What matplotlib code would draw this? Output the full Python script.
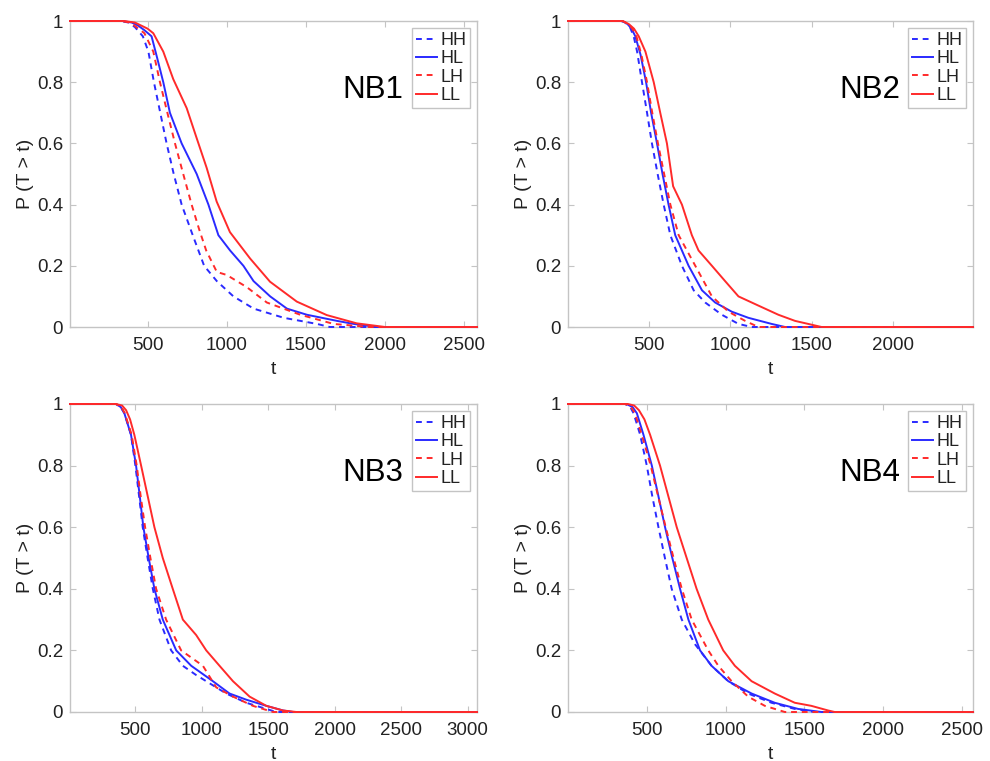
import matplotlib.pyplot as plt
from matplotlib.ticker import FormatStrFormatter

plt.rcParams['font.family'] = ['Liberation Sans', 'DejaVu Sans']

SERIES = ["HH", "HL", "LH", "LL"]
PANEL_NAMES = ["NB1", "NB2", "NB3", "NB4"]
X_LIMITS = [(10, 2580), (5, 2490), (8, 3070), (0, 2570)]
X_TICKS = [[500, 1000, 1500, 2000, 2500],
           [500, 1000, 1500, 2000],
           [500, 1000, 1500, 2000, 2500, 3000],
           [500, 1000, 1500, 2000, 2500]]
Y_TICKS = [0, 0.2, 0.4, 0.6, 0.8, 1]

# NB1
nb1_hh_t = [10, 330, 380, 420, 470, 505, 540, 580, 620, 665, 715, 785, 857, 937, 1042, 1170, 1360, 1570, 1650, 2580]
nb1_hh_p = [1, 1, 0.995, 0.98, 0.95, 0.9, 0.8, 0.7, 0.6, 0.5, 0.4, 0.3, 0.2, 0.15, 0.1, 0.06, 0.03, 0.01, 0, 0]
nb1_hl_t = [10, 340, 400, 440, 480, 525, 560, 599, 641, 715, 810, 884, 947, 1021, 1105, 1169, 1274, 1380, 1506, 1696, 1802, 1950, 2580]
nb1_hl_p = [1, 1, 0.995, 0.985, 0.97, 0.95, 0.88, 0.8, 0.7, 0.6, 0.5, 0.4, 0.3, 0.25, 0.2, 0.15, 0.1, 0.06, 0.04, 0.02, 0.01, 0, 0]
nb1_lh_t = [10, 330, 390, 430, 480, 536, 578, 625, 673, 725, 778, 825, 870, 937, 1000, 1127, 1253, 1464, 1675, 1900, 2580]
nb1_lh_p = [1, 1, 0.995, 0.98, 0.96, 0.9, 0.8, 0.7, 0.6, 0.5, 0.4, 0.32, 0.25, 0.18, 0.17, 0.13, 0.08, 0.04, 0.01, 0, 0]
nb1_ll_t = [10, 350, 420, 460, 500, 536, 599, 662, 747, 810, 873, 936, 1020, 1147, 1273, 1442, 1631, 1820, 2000, 2580]
nb1_ll_p = [1, 1, 0.995, 0.985, 0.975, 0.96, 0.9, 0.81, 0.715, 0.617, 0.52, 0.41, 0.31, 0.224, 0.148, 0.083, 0.039, 0.012, 0, 0]

# NB2
nb2_hh_t = [5, 330, 357, 385, 408, 429, 459, 490, 520, 555, 592, 633, 704, 776, 847, 949, 1051, 1133, 2490]
nb2_hh_p = [1, 1, 0.995, 0.98, 0.95, 0.9, 0.8, 0.7, 0.6, 0.5, 0.4, 0.3, 0.2, 0.12, 0.08, 0.04, 0.01, 0, 0]
nb2_hl_t = [5, 340, 370, 395, 418, 450, 484, 515, 551, 585, 622, 663, 745, 827, 908, 1010, 1112, 1255, 1337, 2490]
nb2_hl_p = [1, 1, 0.99, 0.975, 0.95, 0.89, 0.8, 0.7, 0.6, 0.5, 0.4, 0.3, 0.2, 0.12, 0.08, 0.05, 0.03, 0.01, 0, 0]
nb2_lh_t = [5, 340, 375, 400, 425, 455, 490, 522, 557, 595, 633, 684, 786, 888, 990, 1092, 1173, 2490]
nb2_lh_p = [1, 1, 0.99, 0.975, 0.95, 0.89, 0.8, 0.7, 0.6, 0.5, 0.4, 0.3, 0.2, 0.1, 0.05, 0.02, 0, 0]
nb2_ll_t = [5, 340, 378, 410, 439, 480, 531, 571, 612, 650, 704, 765, 806, 888, 969, 1051, 1173, 1296, 1398, 1520, 1561, 2490]
nb2_ll_p = [1, 1, 0.99, 0.975, 0.95, 0.9, 0.8, 0.7, 0.6, 0.46, 0.4, 0.3, 0.25, 0.2, 0.15, 0.1, 0.07, 0.04, 0.02, 0.005, 0, 0]

# NB3
nb3_hh_t = [8, 354, 390, 417, 467, 500, 528, 555, 592, 631, 681, 769, 857, 957, 1033, 1183, 1334, 1485, 1560, 3070]
nb3_hh_p = [1, 1, 0.99, 0.97, 0.9, 0.8, 0.7, 0.6, 0.5, 0.4, 0.3, 0.2, 0.15, 0.12, 0.1, 0.06, 0.03, 0.01, 0, 0]
nb3_hl_t = [8, 354, 390, 417, 467, 505, 533, 560, 600, 643, 706, 807, 920, 1083, 1208, 1334, 1485, 1610, 1686, 3070]
nb3_hl_p = [1, 1, 0.99, 0.97, 0.9, 0.8, 0.7, 0.6, 0.5, 0.4, 0.3, 0.2, 0.15, 0.1, 0.06, 0.04, 0.02, 0.005, 0, 0]
nb3_lh_t = [8, 354, 395, 420, 472, 510, 540, 573, 613, 656, 731, 844, 1008, 1108, 1234, 1384, 1535, 3070]
nb3_lh_p = [1, 1, 0.99, 0.97, 0.9, 0.8, 0.7, 0.6, 0.5, 0.4, 0.3, 0.2, 0.15, 0.08, 0.05, 0.02, 0, 0]
nb3_ll_t = [8, 354, 400, 430, 460, 492, 543, 593, 643, 706, 781, 857, 957, 1033, 1133, 1234, 1359, 1485, 1610, 1711, 3070]
nb3_ll_p = [1, 1, 0.995, 0.98, 0.95, 0.9, 0.8, 0.7, 0.6, 0.5, 0.4, 0.3, 0.25, 0.2, 0.15, 0.1, 0.05, 0.02, 0.005, 0, 0]

# NB4
nb4_hh_t = [0, 363, 395, 416, 458, 500, 535, 574, 615, 658, 722, 806, 911, 1017, 1143, 1291, 1439, 1565, 2570]
nb4_hh_p = [1, 1, 0.99, 0.97, 0.9, 0.8, 0.7, 0.6, 0.5, 0.4, 0.3, 0.22, 0.15, 0.1, 0.06, 0.03, 0.01, 0, 0]
nb4_hl_t = [0, 370, 410, 437, 479, 532, 574, 616, 662, 711, 764, 838, 911, 1017, 1165, 1312, 1460, 1608, 2570]
nb4_hl_p = [1, 1, 0.99, 0.97, 0.9, 0.8, 0.7, 0.6, 0.5, 0.4, 0.3, 0.2, 0.15, 0.1, 0.06, 0.03, 0.01, 0, 0]
nb4_lh_t = [0, 363, 400, 425, 468, 525, 572, 620, 670, 722, 785, 890, 954, 1038, 1143, 1249, 1376, 2570]
nb4_lh_p = [1, 1, 0.99, 0.97, 0.9, 0.8, 0.7, 0.6, 0.5, 0.4, 0.3, 0.2, 0.15, 0.1, 0.05, 0.02, 0, 0]
nb4_ll_t = [0, 380, 420, 450, 485, 521, 584, 637, 690, 753, 816, 890, 985, 1059, 1165, 1312, 1439, 1544, 1650, 1692, 2570]
nb4_ll_p = [1, 1, 0.995, 0.98, 0.95, 0.9, 0.8, 0.7, 0.6, 0.5, 0.4, 0.3, 0.2, 0.15, 0.1, 0.06, 0.03, 0.02, 0.005, 0, 0]

CURVES = [
    [(nb1_hh_t, nb1_hh_p), (nb1_hl_t, nb1_hl_p), (nb1_lh_t, nb1_lh_p), (nb1_ll_t, nb1_ll_p)],
    [(nb2_hh_t, nb2_hh_p), (nb2_hl_t, nb2_hl_p), (nb2_lh_t, nb2_lh_p), (nb2_ll_t, nb2_ll_p)],
    [(nb3_hh_t, nb3_hh_p), (nb3_hl_t, nb3_hl_p), (nb3_lh_t, nb3_lh_p), (nb3_ll_t, nb3_ll_p)],
    [(nb4_hh_t, nb4_hh_p), (nb4_hl_t, nb4_hl_p), (nb4_lh_t, nb4_lh_p), (nb4_ll_t, nb4_ll_p)],
]

BLUE = "#2a2aff"
RED = "#ff2a2a"
STYLES = {"HH": (BLUE, (0, (3, 2.5))), "HL": (BLUE, "-"),
          "LH": (RED, (0, (3, 2.5))), "LL": (RED, "-")}
BOX = "#c4c4c4"
TXT = "#222222"

# axes rectangles in pixels: left, top, right, bottom
RECTS = [(70, 21, 477, 327), (568, 21, 973, 327),
         (70, 404, 477, 712), (568, 404, 973, 712)]
W, H = 990, 761


def main():
    fig = plt.figure(figsize=(W / 100, H / 100), dpi=100)

    for i, name in enumerate(PANEL_NAMES):
        l, t, r, b = RECTS[i]
        ax = fig.add_axes([l / W, 1 - b / H, (r - l) / W, (b - t) / H])

        for s, (tt, pp) in zip(SERIES, CURVES[i]):
            col, ls = STYLES[s]
            ax.plot(tt, pp, color=col, linestyle=ls, linewidth=1.4, label=s,
                    clip_on=False, zorder=3)

        ax.set_xlim(*X_LIMITS[i])
        ax.set_ylim(0, 1)
        ax.set_xticks(X_TICKS[i])
        ax.set_yticks(Y_TICKS)
        ax.yaxis.set_major_formatter(FormatStrFormatter("%g"))
        ax.tick_params(direction="in", length=4, width=0.8, color=BOX,
                       labelcolor=TXT, labelsize=13.5, top=True, right=True)
        ax.tick_params(axis="x", pad=7)
        ax.tick_params(axis="y", pad=5)
        for sp in ax.spines.values():
            sp.set_color(BOX)
            sp.set_linewidth(1.0)

        ax.set_xlabel("t", fontsize=14, color=TXT, labelpad=5)
        ax.set_ylabel("P (T > t)", fontsize=14, color=TXT, labelpad=2)

        ax.text(0.82, 0.775, name, transform=ax.transAxes, fontsize=22.5,
                ha="right", va="center", color="black")

        leg = ax.legend(loc="upper right", fontsize=13, handlelength=1.2,
                        handletextpad=0.15, labelspacing=0.08, borderpad=0.2,
                        borderaxespad=0.4, fancybox=False, framealpha=1)
        leg.get_frame().set_edgecolor(BOX)
        leg.get_frame().set_linewidth(1.0)
        for txt in leg.get_texts():
            txt.set_color(TXT)

    fig.savefig("out.png", dpi=100)


if __name__ == "__main__":
    main()
